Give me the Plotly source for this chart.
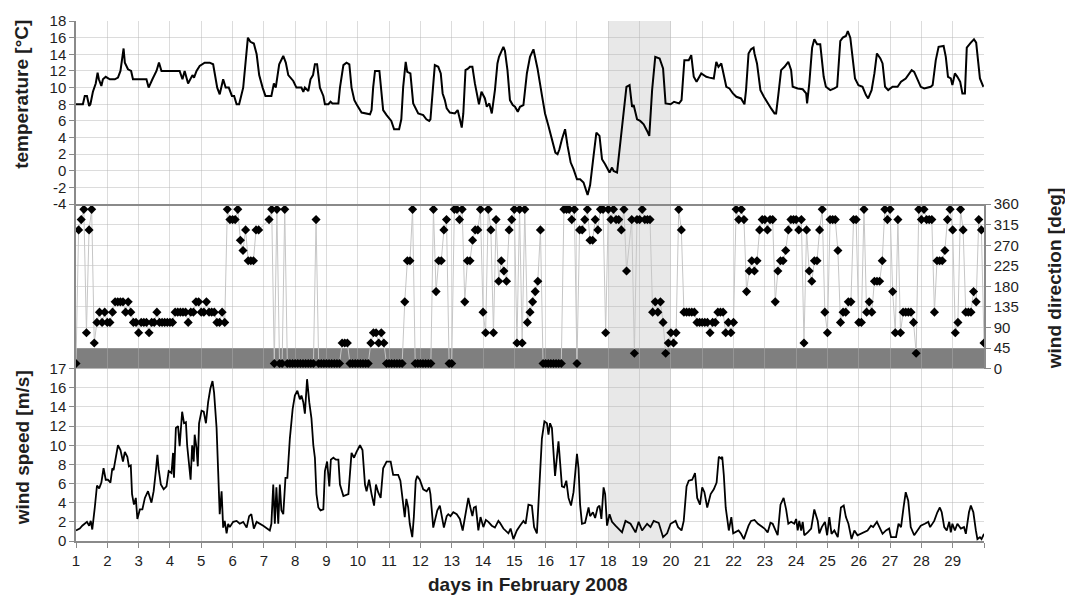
import plotly.graph_objects as go

# ---- air temperature [degC]: (day of February, value) ----
temperature = [
    (1.00, 8.0), (1.22, 8.0), (1.28, 9.0), (1.35, 9.0), (1.42, 7.8), (1.46, 8.0), (1.54, 9.5),
    (1.63, 10.5), (1.69, 11.8), (1.73, 11.0), (1.81, 10.2), (1.86, 11.0), (1.95, 11.3), (2.08, 11.0),
    (2.24, 11.0), (2.34, 11.2), (2.42, 12.0), (2.50, 13.8), (2.52, 14.7), (2.56, 13.0), (2.66, 12.2),
    (2.76, 12.0), (2.82, 11.0), (3.25, 11.0), (3.32, 10.0), (3.44, 11.0), (3.57, 12.0), (3.65, 13.0),
    (3.73, 12.0), (4.31, 12.0), (4.40, 11.0), (4.47, 12.0), (4.58, 10.5), (4.72, 11.5), (4.77, 11.2),
    (4.85, 12.0), (4.95, 12.6), (5.11, 13.0), (5.27, 13.0), (5.38, 12.8), (5.51, 10.0), (5.59, 9.2),
    (5.70, 11.0), (5.78, 10.0), (5.88, 10.0), (5.98, 9.0), (6.05, 9.0), (6.13, 8.0), (6.21, 8.0),
    (6.34, 10.0), (6.42, 13.0), (6.49, 16.0), (6.57, 15.5), (6.68, 15.3), (6.77, 14.0), (6.85, 11.5),
    (6.96, 10.0), (7.05, 9.0), (7.24, 9.0), (7.32, 10.5), (7.38, 10.0), (7.49, 12.8), (7.62, 13.8),
    (7.70, 13.0), (7.78, 11.5), (7.94, 10.8), (8.04, 10.0), (8.20, 10.0), (8.26, 9.5), (8.31, 10.0),
    (8.42, 9.6), (8.49, 11.0), (8.57, 11.5), (8.63, 12.8), (8.70, 12.8), (8.79, 10.0), (8.90, 9.0),
    (8.95, 8.0), (9.06, 8.0), (9.13, 8.3), (9.19, 8.1), (9.38, 8.1), (9.43, 10.0), (9.54, 12.7),
    (9.64, 13.0), (9.73, 12.8), (9.80, 10.0), (9.89, 8.5), (9.96, 8.0), (10.12, 7.0), (10.39, 6.8),
    (10.44, 7.3), (10.49, 10.0), (10.55, 12.0), (10.69, 12.0), (10.81, 7.3), (10.92, 6.7), (11.07, 6.0),
    (11.16, 5.0), (11.32, 5.0), (11.39, 6.2), (11.45, 10.1), (11.53, 13.1), (11.58, 11.9), (11.68, 11.7),
    (11.77, 8.1), (11.93, 6.9), (12.09, 6.7), (12.19, 6.2), (12.28, 6.0), (12.32, 6.2), (12.39, 9.1),
    (12.46, 12.7), (12.57, 12.5), (12.65, 11.7), (12.71, 9.3), (12.78, 8.5), (12.84, 7.5), (12.94, 7.0),
    (13.10, 6.9), (13.19, 7.3), (13.26, 6.2), (13.32, 5.2), (13.37, 6.9), (13.44, 12.1), (13.53, 12.3),
    (13.58, 12.5), (13.66, 12.5), (13.74, 10.5), (13.87, 8.0), (13.95, 9.5), (14.06, 8.7), (14.12, 7.7),
    (14.20, 8.1), (14.28, 6.9), (14.38, 9.7), (14.46, 12.9), (14.51, 13.7), (14.56, 14.1), (14.65, 14.9),
    (14.70, 14.4), (14.78, 12.1), (14.86, 8.5), (14.95, 7.9), (15.02, 7.7), (15.11, 7.1), (15.18, 7.7),
    (15.29, 7.9), (15.40, 11.7), (15.50, 13.7), (15.61, 14.6), (15.74, 12.3), (15.88, 9.1), (15.98, 6.9),
    (16.09, 5.4), (16.20, 3.6), (16.31, 2.2), (16.38, 2.0), (16.44, 2.6), (16.52, 3.8), (16.62, 5.0),
    (16.70, 3.0), (16.80, 1.0), (16.89, 0.2), (17.00, -1.0), (17.10, -1.0), (17.21, -1.4), (17.34, -2.9),
    (17.42, -1.7), (17.53, 1.8), (17.62, 4.6), (17.72, 4.2), (17.80, 1.4), (17.90, 0.8), (18.04, -0.2),
    (18.12, 0.4), (18.17, 0.0), (18.28, -0.2), (18.36, 2.6), (18.49, 7.3), (18.58, 10.1), (18.68, 10.3),
    (18.76, 7.7), (18.81, 7.9), (18.92, 6.2), (19.02, 6.0), (19.13, 5.6), (19.24, 4.8), (19.31, 4.2),
    (19.40, 9.7), (19.50, 13.7), (19.64, 13.5), (19.75, 12.3), (19.83, 8.1), (19.99, 8.0), (20.10, 8.3),
    (20.26, 8.1), (20.34, 8.5), (20.43, 13.3), (20.57, 13.3), (20.65, 13.9), (20.73, 11.3), (20.82, 10.7),
    (20.97, 11.7), (21.13, 11.3), (21.23, 11.2), (21.37, 11.1), (21.45, 13.1), (21.52, 12.5), (21.61, 12.9),
    (21.66, 12.1), (21.77, 10.1), (21.87, 9.9), (21.98, 9.3), (22.09, 8.9), (22.24, 8.7), (22.35, 8.0),
    (22.40, 9.7), (22.48, 14.1), (22.56, 14.6), (22.64, 14.8), (22.67, 14.1), (22.75, 12.9), (22.86, 9.7),
    (22.97, 8.9), (23.09, 8.1), (23.20, 7.5), (23.31, 6.9), (23.36, 6.9), (23.43, 9.1), (23.52, 12.1),
    (23.63, 12.5), (23.75, 13.1), (23.84, 12.1), (23.89, 10.1), (24.05, 9.9), (24.21, 9.8), (24.32, 9.3),
    (24.35, 8.1), (24.42, 10.5), (24.51, 14.8), (24.58, 15.8), (24.67, 15.2), (24.77, 15.2), (24.88, 11.3),
    (24.95, 10.1), (25.09, 9.7), (25.22, 9.9), (25.31, 10.1), (25.41, 15.6), (25.49, 16.0), (25.59, 16.2),
    (25.65, 16.8), (25.73, 16.0), (25.80, 13.3), (25.88, 11.1), (25.99, 10.3), (26.12, 10.1), (26.23, 9.1),
    (26.30, 8.7), (26.41, 9.7), (26.50, 11.7), (26.58, 14.1), (26.69, 13.5), (26.76, 12.9), (26.84, 10.1),
    (26.94, 9.7), (27.08, 10.1), (27.24, 10.1), (27.35, 10.7), (27.50, 11.1), (27.61, 11.7), (27.69, 12.1),
    (27.77, 11.9), (27.88, 10.9), (27.98, 10.1), (28.09, 9.9), (28.30, 10.1), (28.36, 10.3), (28.46, 13.3),
    (28.55, 14.9), (28.71, 15.0), (28.78, 13.7), (28.85, 11.3), (28.94, 11.1), (28.99, 10.3), (29.07, 11.7),
    (29.15, 11.3), (29.24, 10.7), (29.31, 9.3), (29.39, 9.3), (29.45, 14.8), (29.58, 15.4), (29.68, 15.8),
    (29.75, 15.4), (29.79, 13.7), (29.87, 11.1), (29.98, 10.1),
]

# ---- wind speed [m/s]: (day of February, value) ----
wind_speed = [
    (1.00, 1.1), (1.12, 1.3), (1.20, 1.6), (1.28, 1.8), (1.35, 2.0), (1.42, 1.6), (1.47, 2.1),
    (1.52, 1.2), (1.56, 2.1), (1.60, 3.5), (1.67, 5.8), (1.74, 5.5), (1.81, 6.1), (1.88, 7.6),
    (1.95, 6.4), (2.02, 6.4), (2.10, 6.1), (2.16, 7.6), (2.20, 7.4), (2.27, 8.8), (2.34, 10.0),
    (2.42, 9.5), (2.50, 8.3), (2.56, 9.3), (2.64, 8.8), (2.69, 7.8), (2.75, 7.9), (2.79, 4.9),
    (2.85, 3.8), (2.91, 4.5), (2.96, 2.3), (3.04, 3.3), (3.12, 3.3), (3.20, 4.5), (3.30, 5.2),
    (3.41, 4.0), (3.48, 5.2), (3.55, 7.3), (3.60, 9.0), (3.64, 7.5), (3.71, 5.9), (3.80, 5.4),
    (3.89, 5.7), (3.96, 7.3), (4.05, 7.1), (4.10, 9.2), (4.13, 6.6), (4.19, 11.8), (4.26, 12.0),
    (4.31, 9.9), (4.39, 13.5), (4.45, 12.3), (4.51, 12.4), (4.55, 10.0), (4.61, 8.3), (4.66, 6.4),
    (4.71, 10.0), (4.76, 8.3), (4.79, 11.1), (4.85, 9.7), (4.89, 7.8), (4.93, 12.3), (5.01, 13.6),
    (5.08, 13.5), (5.15, 12.3), (5.22, 14.5), (5.29, 15.9), (5.36, 16.7), (5.41, 15.5), (5.49, 11.8),
    (5.54, 7.3), (5.59, 2.8), (5.65, 5.2), (5.70, 1.4), (5.75, 2.1), (5.81, 0.8), (5.86, 1.8),
    (5.91, 1.45), (6.02, 2.0), (6.13, 2.1), (6.23, 1.8), (6.34, 2.0), (6.45, 1.4), (6.53, 2.6),
    (6.60, 2.8), (6.68, 1.3), (6.77, 2.0), (6.98, 1.6), (7.19, 1.1), (7.24, 1.8), (7.30, 5.9),
    (7.35, 1.8), (7.40, 5.6), (7.46, 1.8), (7.51, 5.9), (7.56, 3.2), (7.62, 2.8), (7.69, 6.6),
    (7.75, 6.6), (7.83, 10.7), (7.92, 13.8), (7.99, 15.2), (8.07, 15.7), (8.15, 14.8), (8.20, 15.2),
    (8.26, 14.5), (8.31, 13.3), (8.34, 15.0), (8.38, 16.9), (8.45, 14.5), (8.52, 12.8), (8.58, 10.0),
    (8.63, 8.7), (8.68, 4.9), (8.74, 3.5), (8.81, 3.2), (8.90, 3.3), (8.95, 7.3), (9.02, 8.3),
    (9.09, 5.7), (9.14, 8.5), (9.22, 8.7), (9.30, 8.5), (9.38, 8.5), (9.43, 5.9), (9.54, 4.7),
    (9.70, 4.9), (9.80, 9.2), (9.88, 8.7), (9.96, 9.3), (10.07, 10.0), (10.15, 9.5), (10.23, 5.9),
    (10.28, 5.2), (10.36, 6.4), (10.44, 4.9), (10.52, 3.7), (10.58, 5.9), (10.65, 5.1), (10.73, 4.5),
    (10.81, 7.6), (10.92, 8.3), (11.05, 8.3), (11.13, 6.9), (11.29, 6.9), (11.36, 6.3), (11.45, 4.2),
    (11.50, 2.5), (11.55, 4.4), (11.61, 3.5), (11.66, 1.8), (11.74, 0.4), (11.79, 2.5), (11.85, 6.3),
    (11.90, 6.8), (11.98, 6.4), (12.09, 5.4), (12.20, 5.2), (12.28, 5.6), (12.32, 4.9), (12.41, 1.4),
    (12.46, 2.1), (12.54, 3.2), (12.62, 3.7), (12.68, 2.5), (12.75, 1.4), (12.84, 2.6), (12.89, 2.8),
    (12.96, 2.6), (13.05, 3.0), (13.16, 2.8), (13.26, 2.3), (13.35, 1.1), (13.45, 3.2), (13.53, 4.5),
    (13.58, 3.7), (13.66, 2.6), (13.71, 3.5), (13.77, 3.6), (13.85, 1.1), (13.92, 2.5), (14.01, 1.45),
    (14.09, 2.2), (14.17, 2.0), (14.28, 1.6), (14.38, 1.4), (14.49, 2.1), (14.54, 1.9), (14.65, 1.3),
    (14.81, 0.8), (14.88, 1.3), (14.97, 0.2), (15.08, 1.1), (15.18, 1.6), (15.29, 2.1), (15.36, 1.8),
    (15.45, 3.8), (15.56, 3.7), (15.63, 1.45), (15.72, 0.8), (15.80, 5.6), (15.88, 10.7), (15.96, 12.5),
    (16.04, 12.3), (16.09, 11.1), (16.14, 12.3), (16.20, 11.8), (16.25, 9.3), (16.30, 6.8), (16.41, 10.4),
    (16.46, 8.3), (16.52, 5.7), (16.59, 5.6), (16.66, 6.3), (16.73, 4.5), (16.81, 3.7), (16.89, 5.1),
    (17.00, 9.1), (17.05, 7.6), (17.10, 3.8), (17.16, 1.8), (17.26, 1.9), (17.37, 3.5), (17.42, 2.6),
    (17.51, 3.0), (17.58, 2.4), (17.66, 3.5), (17.72, 3.7), (17.78, 2.3), (17.85, 5.6), (17.90, 4.9),
    (17.96, 1.6), (18.04, 2.8), (18.12, 2.0), (18.23, 1.6), (18.33, 1.3), (18.44, 0.9), (18.55, 2.1),
    (18.71, 1.8), (18.87, 0.9), (18.97, 2.0), (19.08, 1.1), (19.24, 1.8), (19.35, 1.45), (19.45, 2.1),
    (19.61, 1.9), (19.75, 0.4), (19.88, 0.8), (19.99, 1.8), (20.15, 2.1), (20.23, 1.45), (20.34, 1.1),
    (20.41, 2.1), (20.50, 5.7), (20.57, 6.3), (20.68, 6.4), (20.77, 7.1), (20.84, 4.5), (20.93, 3.8),
    (21.00, 5.6), (21.07, 5.1), (21.16, 3.5), (21.27, 4.9), (21.37, 5.4), (21.46, 6.1), (21.53, 8.8),
    (21.61, 8.6), (21.64, 8.8), (21.69, 6.9), (21.75, 3.5), (21.85, 1.1), (21.93, 2.5), (21.99, 0.8),
    (22.16, 1.1), (22.24, 0.75), (22.33, 0.2), (22.40, 0.9), (22.48, 1.6), (22.56, 2.1), (22.67, 2.2),
    (22.78, 1.8), (22.88, 1.6), (22.99, 1.3), (23.09, 0.9), (23.18, 1.9), (23.25, 1.8), (23.33, 1.1),
    (23.41, 0.6), (23.50, 3.8), (23.60, 4.5), (23.68, 3.3), (23.75, 1.8), (23.84, 2.0), (23.94, 1.8),
    (24.00, 2.3), (24.05, 1.1), (24.10, 2.1), (24.16, 1.1), (24.21, 2.0), (24.26, 0.6), (24.37, 0.9),
    (24.48, 1.3), (24.58, 3.3), (24.64, 2.5), (24.69, 2.1), (24.74, 0.8), (24.82, 1.45), (24.92, 2.0),
    (24.99, 0.6), (25.06, 2.5), (25.13, 0.75), (25.22, 1.1), (25.33, 0.4), (25.43, 3.5), (25.52, 3.7),
    (25.59, 2.5), (25.67, 1.8), (25.77, 0.2), (25.86, 1.1), (25.96, 0.6), (26.07, 0.75), (26.18, 0.9),
    (26.28, 1.1), (26.39, 1.6), (26.46, 1.45), (26.58, 2.0), (26.65, 1.45), (26.76, 0.75), (26.87, 1.1),
    (26.97, 1.3), (27.03, 0.4), (27.19, 0.4), (27.27, 1.8), (27.35, 1.45), (27.43, 3.5), (27.50, 5.1),
    (27.58, 4.2), (27.66, 1.45), (27.77, 0.6), (27.88, 1.1), (27.98, 1.6), (28.11, 1.8), (28.22, 2.0),
    (28.28, 1.45), (28.41, 2.1), (28.51, 3.0), (28.59, 3.5), (28.65, 3.0), (28.73, 1.45), (28.81, 1.1),
    (28.89, 2.0), (28.94, 0.9), (28.99, 1.8), (29.07, 1.1), (29.15, 1.8), (29.26, 1.3), (29.36, 1.45),
    (29.42, 0.75), (29.52, 3.0), (29.58, 3.7), (29.66, 3.0), (29.74, 1.1), (29.79, 0.2), (29.87, 0.4),
    (29.92, 0.2), (30.00, 0.75),
]

# ---- wind direction, 2-hourly, as 16-point compass sector index (0..15) ----
# sector k spans 22.5*k .. 22.5*(k+1) degrees; None = no reading
wind_dir_sector = [
    [0, 13, 14, 15, 3, 13, 15, 2, 4, 5, 4, 5],            # 1
    [4, 4, 5, 6, 6, 6, 6, 5, 6, 5, 4, 4],                 # 2
    [3, 4, 4, 4, 3, 4, 4, 5, 4, 4, 4, 4],                 # 3
    [4, 4, 5, 5, 5, 5, 5, 4, 5, 5, 6, 6],                 # 4
    [5, 5, 6, 5, 5, 5, 4, 4, 5, 4, 15, 14],               # 5
    [14, 14, 15, 12, 11, 13, 10, 10, 10, 13, 13, None],   # 6
    [None, None, 14, 15, 0, 15, 0, 0, 15, 0, 0, 0],       # 7
    [0, 0, 0, 0, 0, 0, 0, 0, 14, 0, 0, 0],                # 8
    [0, 0, 0, 0, 0, 0, 2, 2, 2, 0, 0, 0],                 # 9
    [0, 0, 0, 0, 0, 2, 3, 3, 2, 3, 2, 0],                 # 10
    [0, 0, 0, 0, 0, 0, 6, 10, 10, 15, 0, 0],              # 11
    [0, 0, 0, 0, 0, 15, 7, 10, 10, 13, 14, 0],            # 12
    [0, 15, 15, 14, 15, 6, 10, 10, 12, 13, 13, 15],       # 13
    [5, 3, 15, 13, 3, 14, 8, 10, 9, 8, 13, 14],           # 14
    [15, 2, 15, 2, 15, 4, 5, 6, 7, 8, 13, 0],             # 15
    [0, 0, 0, 0, 0, 0, 0, 15, 15, 15, 14, 15],            # 16
    [0, 13, 13, 14, 15, 12, 12, 14, 13, 15, 15, 3],       # 17
    [15, 14, 15, 14, 14, 13, 15, 9, None, 14, 1, 14],     # 18
    [14, 15, 14, 14, 14, 5, 6, 5, 6, 4, 1, 2],            # 19
    [3, 2, 3, 15, 13, 5, 5, 5, 5, 5, 4, 4],               # 20
    [4, 4, 4, 3, 4, 4, 5, 5, 5, 3, 4, 3],                 # 21
    [4, 15, 14, 15, 14, 7, 9, 10, 9, 10, 13, 14],         # 22
    [14, 13, 14, 14, 6, 9, 10, 10, 11, 13, 14, 14],       # 23
    [14, 13, 14, 2, 13, 9, 8, 10, 10, 13, 15, 5],         # 24
    [3, 14, 14, 14, 11, 4, 5, 5, 6, 6, 14, 14],           # 25
    [4, 4, 15, 5, 6, 5, 8, 8, 8, 10, 15, 14],             # 26
    [15, 7, 3, 14, 3, 5, 5, 5, 5, 4, 1, 15],              # 27
    [14, 15, 14, 14, 14, 5, 10, 10, 10, 11, 14, 15],      # 28
    [13, 3, 4, 15, 13, 5, 5, 5, 7, 6, 14, 13],            # 29
]
wind_dir_last = 2          # reading at 00:00 on 1 March (day 30.0)

days = list(range(1, 31))
day_labels = [str(d) for d in range(1, 30)] + [""]
highlight_days = (18, 20)
calm_band_deg = (0, 45)

# axis ticks: the wind-speed panel tops out one grid step above 16, captioned "17"
speed_tickvals = [0, 2, 4, 6, 8, 10, 12, 14, 16, 18]
speed_ticktext = ["0", "2", "4", "6", "8", "10", "12", "14", "16", "17"]
temp_ticks = list(range(-4, 19, 2))
dir_ticks = list(range(0, 361, 45))

temp_day = [d for d, _ in temperature]
temp_c = [v for _, v in temperature]
speed_day = [d for d, _ in wind_speed]
speed_ms = [v for _, v in wind_speed]

dir_time, dir_deg = [], []
for i, row in enumerate(wind_dir_sector):
    for k, s in enumerate(row):
        dir_time.append(1 + i + k / 12)
        dir_deg.append(None if s is None else 11.25 + 22.5 * s)
dir_time.append(30.0)
dir_deg.append(11.25 + 22.5 * wind_dir_last)

FONT = "Liberation Sans, Arial, Helvetica, sans-serif"
GRID = "rgba(177,177,177,0.45)"
AXIS = "#8a8a8a"
TXT = "#1e1e1e"

fig = go.Figure()
fig.add_trace(go.Scatter(x=temp_day, y=temp_c, mode="lines",
                         line=dict(color="black", width=2), xaxis="x3", yaxis="y3",
                         showlegend=False))
fig.add_trace(go.Scatter(x=dir_time, y=dir_deg, mode="lines+markers", connectgaps=True,
                         line=dict(color="#c6c6c6", width=1),
                         marker=dict(symbol="diamond", size=7, color="black", line=dict(width=0)),
                         xaxis="x2", yaxis="y2", showlegend=False))
fig.add_trace(go.Scatter(x=speed_day, y=speed_ms, mode="lines",
                         line=dict(color="black", width=1.8), xaxis="x", yaxis="y",
                         showlegend=False))

# shaded period across all panels, then the dark 0-45 deg band
fig.add_shape(type="rect", xref="x", yref="paper", x0=highlight_days[0], x1=highlight_days[1],
              y0=0, y1=1, fillcolor="#e8e8e8", line=dict(width=0), layer="below")
fig.add_shape(type="rect", xref="x2", yref="y2", x0=days[0], x1=days[-1],
              y0=calm_band_deg[0], y1=calm_band_deg[1], fillcolor="#7f7f7f",
              line=dict(width=0), layer="below")

H_SPEED = 0.3314
H_DIR = 0.6477

xbase = dict(range=[1, 30], tickmode="array", tickvals=days, showgrid=True,
             gridcolor=GRID, gridwidth=1, zeroline=False)
ybase = dict(showgrid=True, gridcolor=GRID, gridwidth=1, zeroline=False,
             ticks="outside", ticklen=5, tickcolor=AXIS, showline=True,
             linecolor=AXIS, linewidth=1.5, tickfont=dict(size=15, color=TXT))

fig.update_layout(
    width=1065, height=602,
    margin=dict(l=76, r=81, t=13, b=61),
    paper_bgcolor="white", plot_bgcolor="rgba(0,0,0,0)",
    font=dict(family=FONT, size=15, color=TXT),
    xaxis=dict(**xbase, anchor="y", domain=[0, 1], ticktext=day_labels,
               ticks="outside", ticklen=5, tickcolor=AXIS, showline=True,
               linecolor=AXIS, linewidth=1.5, tickfont=dict(size=15, color=TXT)),
    xaxis2=dict(**xbase, anchor="y2", domain=[0, 1], showticklabels=False, ticks=""),
    xaxis3=dict(**xbase, anchor="y3", domain=[0, 1], showticklabels=False, ticks="",
                showline=True, linecolor=AXIS, linewidth=1.5),
    yaxis=dict(**ybase, anchor="x", domain=[0, H_SPEED], range=[0, 18],
               tickmode="array", tickvals=speed_tickvals, ticktext=speed_ticktext),
    yaxis2=dict(**ybase, anchor="x2", domain=[H_SPEED, H_DIR], range=[0, 360], side="right",
                mirror=True, tickmode="array", tickvals=dir_ticks,
                ticktext=[str(t) for t in dir_ticks]),
    yaxis3=dict(**ybase, anchor="x3", domain=[H_DIR, 1], range=[-4, 18],
                tickmode="array", tickvals=temp_ticks,
                ticktext=[str(t) for t in temp_ticks]),
)

title_font = dict(family=FONT, size=19, color=TXT)
fig.add_annotation(text="<b>temperature [°C]</b>", xref="paper", yref="paper",
                   x=-0.0595, y=0.86, textangle=-90, showarrow=False,
                   xanchor="center", yanchor="middle", font=title_font)
fig.add_annotation(text="<b>wind speed [m/s]</b>", xref="paper", yref="paper",
                   x=-0.0595, y=0.18, textangle=-90, showarrow=False,
                   xanchor="center", yanchor="middle", font=title_font)
fig.add_annotation(text="<b>wind direction [deg]</b>", xref="paper", yref="paper",
                   x=1.078, y=0.505, textangle=-90, showarrow=False,
                   xanchor="center", yanchor="middle", font=title_font)
fig.add_annotation(text="<b>days in February 2008</b>", xref="paper", yref="paper",
                   x=0.4978, y=-0.0833, showarrow=False,
                   xanchor="center", yanchor="middle", font=title_font)

fig.write_html("out.html")
